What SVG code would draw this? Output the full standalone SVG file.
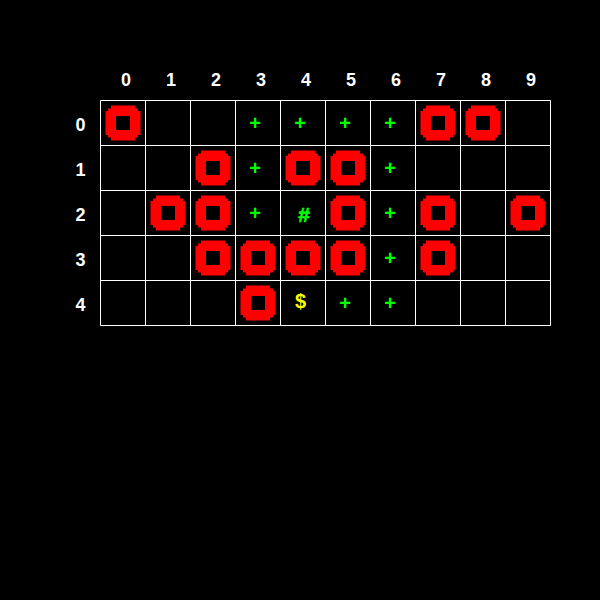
<svg xmlns="http://www.w3.org/2000/svg" width="600" height="600" viewBox="0 0 600 600">
<style>
.lbl{font-family:"Liberation Sans",Arial,sans-serif;font-weight:bold;font-size:18px;fill:#ffffff;text-anchor:middle}
.cell{fill:none;stroke:#ffffff;stroke-width:1}
.wall{fill:#ff0000;fill-rule:evenodd}
.path{font-family:"Liberation Sans",Arial,sans-serif;font-weight:bold;font-size:20px;fill:#00ff00;text-anchor:middle}
.hash{font-family:"Liberation Sans",Arial,sans-serif;font-weight:bold;font-size:21px;fill:#00ff00;text-anchor:middle;stroke:#00ff00;stroke-width:0.6}
.goal{font-family:"Liberation Sans",Arial,sans-serif;font-weight:bold;font-size:20px;fill:#ffff00;text-anchor:middle}
</style>
<defs>
<path id="ring" class="wall" d="M11,5.5H35V8.5H38V11H40.5V35H38V37.5H35V40.5H11V37.5H8V35H5.5V11H8V8.5H11ZM16,16V30H30V16Z"/>
</defs>
<rect x="0" y="0" width="600" height="600" fill="#000000"/>
<g id="labels">
<text class="lbl" x="126" y="86">0</text>
<text class="lbl" x="171" y="86">1</text>
<text class="lbl" x="216" y="86">2</text>
<text class="lbl" x="261" y="86">3</text>
<text class="lbl" x="306" y="86">4</text>
<text class="lbl" x="351" y="86">5</text>
<text class="lbl" x="396" y="86">6</text>
<text class="lbl" x="441" y="86">7</text>
<text class="lbl" x="486" y="86">8</text>
<text class="lbl" x="531" y="86">9</text>
<text class="lbl" x="80.5" y="131">0</text>
<text class="lbl" x="80.5" y="176">1</text>
<text class="lbl" x="80.5" y="221">2</text>
<text class="lbl" x="80.5" y="266">3</text>
<text class="lbl" x="80.5" y="311">4</text>
</g>
<g id="grid">
<path class="cell" d="M100.5,100.5H550.5M100.5,145.5H550.5M100.5,190.5H550.5M100.5,235.5H550.5M100.5,280.5H550.5M100.5,325.5H550.5M100.5,100.5V325.5M145.5,100.5V325.5M190.5,100.5V325.5M235.5,100.5V325.5M280.5,100.5V325.5M325.5,100.5V325.5M370.5,100.5V325.5M415.5,100.5V325.5M460.5,100.5V325.5M505.5,100.5V325.5M550.5,100.5V325.5"/>
</g>
<g id="walls">
<use href="#ring" x="100" y="100"/>
<use href="#ring" x="415" y="100"/>
<use href="#ring" x="460" y="100"/>
<use href="#ring" x="190" y="145"/>
<use href="#ring" x="280" y="145"/>
<use href="#ring" x="325" y="145"/>
<use href="#ring" x="145" y="190"/>
<use href="#ring" x="190" y="190"/>
<use href="#ring" x="325" y="190"/>
<use href="#ring" x="415" y="190"/>
<use href="#ring" x="505" y="190"/>
<use href="#ring" x="190" y="235"/>
<use href="#ring" x="235" y="235"/>
<use href="#ring" x="280" y="235"/>
<use href="#ring" x="325" y="235"/>
<use href="#ring" x="415" y="235"/>
<use href="#ring" x="235" y="280"/>
</g>
<g id="route">
<text class="path" x="255" y="129.5">+</text>
<text class="path" x="300" y="129.5">+</text>
<text class="path" x="345" y="129.5">+</text>
<text class="path" x="390" y="129.5">+</text>
<text class="path" x="255" y="174.5">+</text>
<text class="path" x="390" y="174.5">+</text>
<text class="path" x="255" y="219.5">+</text>
<text class="hash" x="304" y="222">#</text>
<text class="path" x="390" y="219.5">+</text>
<text class="path" x="390" y="264.5">+</text>
<text class="goal" x="300.5" y="307.5">$</text>
<text class="path" x="345" y="309.5">+</text>
<text class="path" x="390" y="309.5">+</text>
</g>
</svg>
